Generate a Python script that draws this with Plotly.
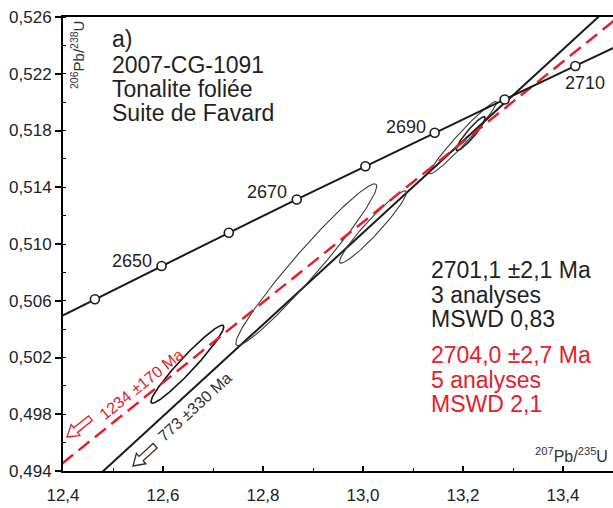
import numpy as np
import plotly.graph_objects as go

# ---------------- data ----------------
# Concordia (ages in Ma, with 207Pb/235U and 206Pb/238U ratios)
conc_age = [2630, 2640, 2650, 2660, 2670, 2680, 2690, 2700, 2710, 2720]
conc_x = [12.3319, 12.4638, 12.5971, 12.7316, 12.8675, 13.0048, 13.1434, 13.2834, 13.4247, 13.5675]
conc_y = [0.50378, 0.50611, 0.50845, 0.51079, 0.51314, 0.51548, 0.51784, 0.52019, 0.52255, 0.52492]
conc_label_age = [2650, 2670, 2690, 2710]

# Discordia lines (two points on each line)
disc_black_x = [12.45, 13.55]
disc_black_y = [0.49301, 0.52857]
disc_red_x = [12.30, 13.60]
disc_red_y = [0.49175, 0.52851]

# Error ellipses: centre, half extents, correlation
ell_cx = [12.6488, 12.8865, 13.020, 13.200, 13.2155]
ell_cy = [0.50153, 0.50854, 0.51120, 0.51749, 0.51778]
ell_ex = [0.073, 0.141, 0.067, 0.067, 0.029]
ell_ey = [0.00275, 0.0057, 0.00255, 0.00255, 0.00120]
ell_rho = [0.960, 0.970, 0.955, 0.975, 0.930]

# Text
sample_lines = ["a)", "2007-CG-1091", "Tonalite foliée", "Suite de Favard"]
black_result = ["2701,1 ±2,1 Ma", "3 analyses", "MSWD 0,83"]
red_result = ["2704,0 ±2,7 Ma", "5 analyses", "MSWD 2,1"]
red_intercept = "1234 ±170 Ma"
black_intercept = "773 ±330 Ma"

RED = "#e3202b"
DARK = "#231f20"
FONT = "Liberation Sans, Arial, sans-serif"

# ---------------- layout geometry ----------------
W, H = 613, 508
ML, MR, MT, MB = 63, 0, 17, 37
PW, PH = W - ML - MR, H - MT - MB


def px(x):
    return (x - ML) / PW


def py(y):
    return (H - MB - y) / PH


fig = go.Figure()

# Discordias
fig.add_trace(go.Scatter(x=disc_black_x, y=disc_black_y, mode="lines",
                         line=dict(color="#1a1a1a", width=2), hoverinfo="skip"))

# Ellipses
for i, (cx, cy, ex, ey, r) in enumerate(zip(ell_cx, ell_cy, ell_ex, ell_ey, ell_rho)):
    t = np.linspace(0, 2 * np.pi, 240)
    xs = cx + ex * np.cos(t)
    ys = cy + ey * (r * np.cos(t) + np.sqrt(1 - r ** 2) * np.sin(t))
    if i == 0:
        col, w = "#111111", 1.6
    elif i == 4:
        col, w = "#222222", 1.6
    else:
        col, w = "#3a3a3a", 1.1
    fig.add_trace(go.Scatter(x=xs, y=ys, mode="lines",
                             line=dict(color=col, width=w), hoverinfo="skip"))

fig.add_trace(go.Scatter(x=disc_red_x, y=disc_red_y, mode="lines",
                         line=dict(color=RED, width=2.5, dash="14px,7px"), hoverinfo="skip"))

# Concordia
fig.add_trace(go.Scatter(x=conc_x, y=conc_y, mode="lines+markers",
                         line=dict(color="#1a1a1a", width=2),
                         marker=dict(symbol="circle", size=9, color="white",
                                     line=dict(color="#1a1a1a", width=1.6)),
                         hoverinfo="skip"))

ann = []
offsets = {2650: (-30, 5), 2670: (-30, 7), 2690: (-29, 6), 2710: (10, -17)}
for a in conc_label_age:
    i = conc_age.index(a)
    dx, dy = offsets[a]
    ann.append(dict(x=conc_x[i], y=conc_y[i], xref="x", yref="y", text=str(a),
                    showarrow=False, xshift=dx, yshift=dy,
                    xanchor="center", yanchor="middle",
                    font=dict(family=FONT, size=18, color=DARK)))

# Sample description (upper left)
for txt, yc in zip(sample_lines, [39, 65, 89, 113]):
    ann.append(dict(x=px(110), y=py(yc), xref="paper", yref="paper", text=txt,
                    showarrow=False, xanchor="left", yanchor="middle",
                    font=dict(family=FONT, size=23, color=DARK)))

# Results (right)
for txt, yc in zip(black_result, [270, 295, 319]):
    ann.append(dict(x=px(429), y=py(yc), xref="paper", yref="paper", text=txt,
                    showarrow=False, xanchor="left", yanchor="middle",
                    font=dict(family=FONT, size=23, color=DARK)))
for txt, yc in zip(red_result, [355, 380, 404]):
    ann.append(dict(x=px(429), y=py(yc), xref="paper", yref="paper", text=txt,
                    showarrow=False, xanchor="left", yanchor="middle",
                    font=dict(family=FONT, size=23, color=RED)))


def centered(text, x, y, angle, family, size, color):
    return dict(x=px(x), y=py(y), xref="paper", yref="paper", text=text,
                showarrow=False, textangle=angle, xanchor="center", yanchor="middle",
                font=dict(family=family, size=size, color=color))


# Lower intercept labels along the discordias
ann.append(centered(red_intercept, 141, 384, -38.7, FONT, 16, RED))
ann.append(centered(black_intercept, 194, 407, -42.5, FONT, 16, "#333333"))

# Axis titles (inside the plot)
ann.append(centered("<sup>206</sup>Pb/<sup>238</sup>U", 78, 55, -90, FONT, 15, "#333333"))
ann.append(centered("<sup>207</sup>Pb/<sup>235</sup>U", 571, 455, 0, FONT, 16, "#333333"))


def hollow_arrow(tip_x, tip_y, angle_deg, color):
    """Outline arrow pointing down-left along a line rising at angle_deg."""
    th = np.radians(angle_deg)
    d = np.array([np.cos(th), -np.sin(th)])   # from tip towards tail (screen px)
    n = np.array([np.sin(th), np.cos(th)])
    L, hl, hw, sw = 30, 11, 7, 3
    local = [(0, 0), (hl, hw), (hl, sw), (L, sw), (L, -sw), (hl, -sw), (hl, -hw)]
    pts = [np.array([tip_x, tip_y]) + u * d + v * n for u, v in local]
    path = "M " + " L ".join(f"{px(p[0]):.5f},{py(p[1]):.5f}" for p in pts) + " Z"
    return dict(type="path", xref="paper", yref="paper", path=path,
                line=dict(color=color, width=1.3), fillcolor="white", layer="above")


shapes = [hollow_arrow(67, 437, 38.7, RED),
          hollow_arrow(133, 466, 42.5, "#3a2a20")]

fig.update_layout(
    width=W, height=H,
    margin=dict(l=ML, r=MR, t=MT, b=MB),
    paper_bgcolor="white", plot_bgcolor="white",
    showlegend=False,
    separators=", ",
    annotations=ann,
    shapes=shapes,
    xaxis=dict(range=[12.4, 13.5], tick0=12.4, dtick=0.2, tickformat=".1f",
               ticks="inside", ticklen=5, tickwidth=1.5, tickcolor="black",
               minor=dict(dtick=0.1, ticks="inside", ticklen=3, tickwidth=1.2, tickcolor="black"),
               showline=True, linewidth=2, linecolor="black", mirror=True,
               showgrid=False, zeroline=False, ticklabelstandoff=8,
               tickfont=dict(family=FONT, size=17, color="#222222")),
    yaxis=dict(range=[0.494, 0.526], tick0=0.494, dtick=0.004, tickformat=".3f",
               ticks="outside", ticklen=6, tickwidth=1.5, tickcolor="black",
               minor=dict(dtick=0.002, ticks="inside", ticklen=3, tickwidth=1.2, tickcolor="black"),
               showline=True, linewidth=2, linecolor="black",
               showgrid=False, zeroline=False, ticklabelstandoff=0,
               tickfont=dict(family=FONT, size=17, color="#222222")),
)

fig.write_html("out.html", config={"displayModeBar": False},
               post_script="document.body.style.margin='0';document.body.style.padding='0';")
